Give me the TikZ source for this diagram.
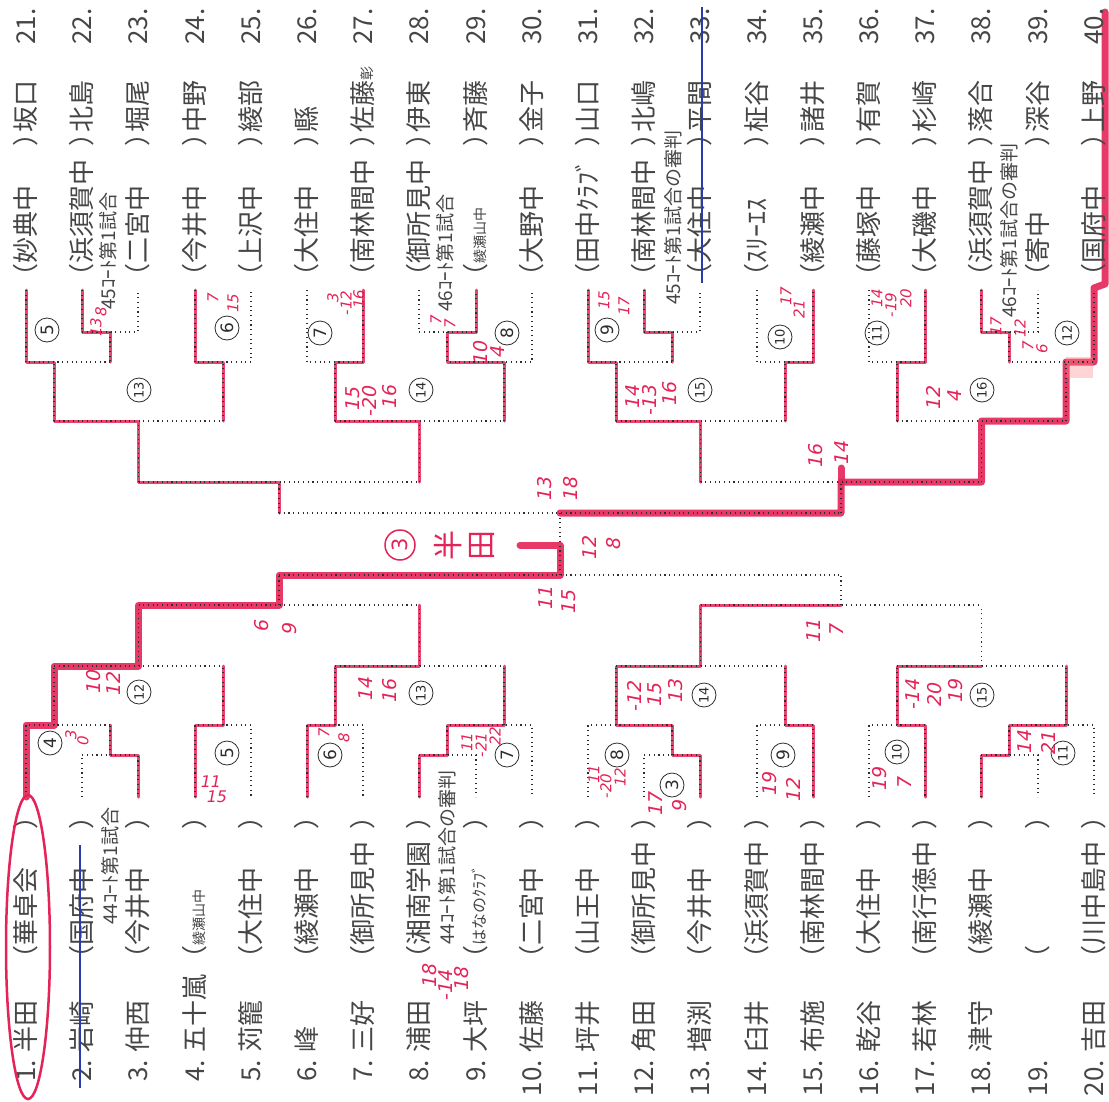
\documentclass[tikz,border=0pt]{standalone}
\usepackage{fontspec}
\newfontfamily\jp{Noto Sans CJK JP}
\newfontfamily\hand{DejaVu Sans}
\definecolor{mk}{RGB}{228,36,88}
\definecolor{ink}{RGB}{45,45,45}
\definecolor{tx}{RGB}{70,70,70}
\definecolor{bl}{RGB}{40,60,170}
\newcommand\smtx[1]{{\fontsize{14}{14}\selectfont #1}}
\newcommand\smtxb[1]{{\fontsize{16}{16}\selectfont #1}}
\tikzset{
 txt/.style={rotate=90, inner sep=0pt, font=\jp\fontsize{26}{26}\selectfont, text=tx},
 note/.style={rotate=90, inner sep=0pt, anchor=west, font=\jp\fontsize{19}{19}\selectfont, text=tx},
 sc/.style={rotate=90, inner sep=0pt, font=\hand\itshape\fontsize{19}{19}\selectfont, text=mk},
 scs/.style={rotate=90, inner sep=0pt, font=\hand\itshape\fontsize{15}{15}\selectfont, text=mk},
 scu/.style={inner sep=0pt, font=\hand\itshape\fontsize{16}{16}\selectfont, text=mk},
 cn/.style={circle, draw=ink, line width=0.8pt, minimum size=24pt, inner sep=0pt, rotate=90, font=\hand\fontsize{17}{17}\selectfont, text=ink},
 cntwo/.style={cn, font=\hand\fontsize{13}{13}\selectfont},
 base/.style={draw=ink, line width=1.1pt, dash pattern=on 1.1pt off 3.6pt},
 win/.style={draw=mk, line width=3pt, opacity=0.85, line join=round, line cap=round},
 champ/.style={draw=mk, line width=7pt, opacity=0.9, line join=round, line cap=round},
}
\newcommand\botentry[5]{%
 \node[txt, anchor=east] (b#1num) at (#2,1060) {#3};
 \node[txt, anchor=west] (b#1nm) at (#2,1053) {#4};
 \node[txt, anchor=west] (b#1sc) at (#2,972) {（#5};
 \node[txt, anchor=west] (b#1cp) at (#2,830) {）};
}
\newcommand\topentry[5]{%
 \node[txt, anchor=west] (t#1sc) at (#2,290) {（#5};
 \node[txt, anchor=west] (t#1cp) at (#2,147) {）};
 \node[txt, anchor=west] (t#1nm) at (#2,133) {#4};
 \node[txt, anchor=west] (t#1num) at (#2,45) {#3};
}
\begin{document}
\begin{tikzpicture}[x=1pt,y=-1pt]
\useasboundingbox (0,0) rectangle (1109,1101);
\fill[white] (0,0) rectangle (1109,1101);

% ---------- red overlays: bottom ----------
\draw[win] (138,797)--(138,755)--(110,755)--(110,725);
\draw[win] (195,797)--(195,725)--(223,725)--(223,666);
\draw[win] (307,797)--(307,725)--(335,725)--(335,666)--(419.5,666)--(419.5,605);
\draw[win] (419,797)--(419,755)--(447,755)--(447,725)--(504,725)--(504,666);
\draw[win] (700,797)--(700,755)--(672,755)--(672,725)--(616,725)--(616,666)--(700.5,666)--(700.5,605)--(841,605);
\draw[win] (813,797)--(813,725)--(785,725)--(785,666);
\draw[win] (925,797)--(925,725)--(897,725)--(897,666)--(981.5,666);
\draw[win] (981,797)--(981,755)--(1009,755)--(1009,725)--(1066,725)--(1066,666);
\draw[champ] (26,797)--(26,725)--(54,725)--(54,666)--(138.5,666)--(138.5,605)--(279,605)--(279,575)--(560,575)--(560,545)--(520,545);
% ---------- red overlays: top ----------
\draw[win] (82,290)--(82,332)--(110,332)--(110,362);
\draw[win] (26,290)--(26,362)--(54,362)--(54,421)--(138.5,421)--(138.5,482)--(279,482)--(279,513);
\draw[win] (195,290)--(195,362)--(223,362)--(223,421);
\draw[win] (363,290)--(363,362)--(335,362)--(335,421)--(419.5,421)--(419.5,482);
\draw[win] (476,290)--(476,332)--(447,332)--(447,362)--(504,362)--(504,421);
\draw[win] (644,290)--(644,332)--(672,332)--(672,362);
\draw[win] (588,290)--(588,362)--(616,362)--(616,421)--(700.5,421)--(700.5,482);
\draw[win] (813,290)--(813,362)--(785,362)--(785,421);
\draw[win] (925,290)--(925,362)--(897,362)--(897,421);
\draw[win] (981,290)--(981,332)--(1009,332)--(1009,362);
\draw[champ] (1105,12)--(1105,284)--(1094,288)--(1094,362)--(1066,362)--(1066,421)--(981.5,421)--(981.5,482)--(841,482)--(841,513)--(560,513);
\draw[champ] (841,482)--(841,468);
\fill[pink!70!red, opacity=0.35] (1066,357) rectangle (1093,378);

% ---------- printed dotted bracket: bottom ----------
\draw[base] (26,797)--(26,725)--(110,725);
\draw[base] (82,797)--(82,755)--(138,755)--(138,797);
\draw[base] (110,755)--(110,725) (54,725)--(54,666);
\draw[base] (195,797)--(195,725)--(251,725)--(251,797) (223,725)--(223,666);
\draw[base] (54,666)--(223,666) (138.5,666)--(138.5,605);
\draw[base] (307,797)--(307,725)--(363,725)--(363,797) (335,725)--(335,666);
\draw[base] (419,797)--(419,755)--(476,755)--(476,797) (447,755)--(447,725)--(532,725)--(532,797) (504,725)--(504,666);
\draw[base] (335,666)--(504,666) (419.5,666)--(419.5,605);
\draw[base] (138.5,605)--(419.5,605) (279,605)--(279,575);
\draw[base] (588,797)--(588,725)--(672,725) (644,797)--(644,755)--(700,755)--(700,797) (672,755)--(672,725) (616,725)--(616,666);
\draw[base] (757,797)--(757,725)--(813,725)--(813,797) (785,725)--(785,666);
\draw[base] (616,666)--(785,666) (700.5,666)--(700.5,605);
\draw[base] (869,797)--(869,725)--(925,725)--(925,797) (897,725)--(897,666);
\draw[base] (981,797)--(981,755)--(1038,755)--(1038,797) (1009,755)--(1009,725)--(1094,725)--(1094,797) (1066,725)--(1066,666);
\draw[base] (897,666)--(1066,666) (981.5,666)--(981.5,605);
\draw[base] (700.5,605)--(981.5,605) (841,605)--(841,575);
\draw[base] (279,575)--(841,575) (560,575)--(560,513);
% ---------- printed dotted bracket: top ----------
\draw[base] (279,513)--(841,513) (279,513)--(279,482) (841,513)--(841,482);
\draw[base] (138.5,482)--(419.5,482) (700.5,482)--(981.5,482);
\draw[base] (138.5,482)--(138.5,421) (419.5,482)--(419.5,421) (700.5,482)--(700.5,421) (981.5,482)--(981.5,421);
\draw[base] (54,421)--(223,421) (335,421)--(504,421) (616,421)--(785,421) (897,421)--(1066,421);
\draw[base] (54,421)--(54,362) (223,421)--(223,362) (335,421)--(335,362) (504,421)--(504,362) (616,421)--(616,362) (785,421)--(785,362) (897,421)--(897,362) (1066,421)--(1066,362);
\draw[base] (26,290)--(26,362)--(110,362) (82,290)--(82,332)--(138,332)--(138,290) (110,332)--(110,362);
\draw[base] (195,290)--(195,362)--(251,362)--(251,290);
\draw[base] (307,290)--(307,362)--(363,362)--(363,290);
\draw[base] (419,290)--(419,332)--(476,332)--(476,290) (447,332)--(447,362)--(532,362)--(532,290);
\draw[base] (588,290)--(588,362)--(672,362) (644,290)--(644,332)--(700,332)--(700,290) (672,332)--(672,362);
\draw[base] (757,290)--(757,362)--(813,362)--(813,290);
\draw[base] (869,290)--(869,362)--(925,362)--(925,290);
\draw[base] (981,290)--(981,332)--(1038,332)--(1038,290) (1009,332)--(1009,362)--(1094,362)--(1094,290);

% ---------- entries ----------
\botentry{1}{26}{1.}{半田}{華卓会}
\botentry{2}{82}{2.}{岩崎}{国府中}
\botentry{3}{138}{3.}{仲西}{今井中}
\botentry{4}{195}{4.}{五十嵐}{\smtx{綾瀬山中}}
\botentry{5}{251}{5.}{苅籠}{大住中}
\botentry{6}{307}{6.}{峰}{綾瀬中}
\botentry{7}{363}{7.}{三好}{御所見中}
\botentry{8}{419}{8.}{浦田}{湘南学園}
\botentry{9}{476}{9.}{大坪}{\smtxb{はなのｸﾗﾌﾞ}}
\botentry{10}{532}{10.}{佐藤}{二宮中}
\botentry{11}{588}{11.}{坪井}{山王中}
\botentry{12}{644}{12.}{角田}{御所見中}
\botentry{13}{700}{13.}{増渕}{今井中}
\botentry{14}{757}{14.}{臼井}{浜須賀中}
\botentry{15}{813}{15.}{布施}{南林間中}
\botentry{16}{869}{16.}{乾谷}{大住中}
\botentry{17}{925}{17.}{若林}{南行徳中}
\botentry{18}{981}{18.}{津守}{綾瀬中}
\botentry{19}{1038}{19.}{}{}
\botentry{20}{1094}{20.}{吉田}{川中島中}

\topentry{21}{26}{21.}{坂口}{妙典中}
\topentry{22}{82}{22.}{北島}{浜須賀中}
\topentry{23}{138}{23.}{堀尾}{二宮中}
\topentry{24}{195}{24.}{中野}{今井中}
\topentry{25}{251}{25.}{綾部}{上沢中}
\topentry{26}{307}{26.}{縣}{大住中}
\topentry{27}{363}{27.}{佐藤\smtx{彰}}{南林間中}
\topentry{28}{419}{28.}{伊東}{御所見中}
\topentry{29}{476}{29.}{斉藤}{\smtx{綾瀬山中}}
\topentry{30}{532}{30.}{金子}{大野中}
\topentry{31}{588}{31.}{山口}{田中ｸﾗﾌﾞ}
\topentry{32}{644}{32.}{北嶋}{南林間中}
\topentry{33}{700}{33.}{平間}{大住中}
\topentry{34}{757}{34.}{柾谷}{ｽﾘｰｴｽ}
\topentry{35}{813}{35.}{諸井}{綾瀬中}
\topentry{36}{869}{36.}{有賀}{藤塚中}
\topentry{37}{925}{37.}{杉崎}{大磯中}
\topentry{38}{981}{38.}{落合}{浜須賀中}
\topentry{39}{1038}{39.}{深谷}{寄中}
\topentry{40}{1094}{40.}{上野}{国府中}

% ---------- court notes ----------
\node[note] (n44a) at (110,925) {44ｺｰﾄ第1試合};
\node[note] (n44b) at (447,945) {44ｺｰﾄ第1試合の審判};
\node[note] (n45a) at (108,310) {45ｺｰﾄ第1試合};
\node[note] (n46a) at (445,312) {46ｺｰﾄ第1試合};
\node[note] (n45b) at (673,305) {45ｺｰﾄ第1試合の審判};
\node[note] (n46b) at (1009,318) {46ｺｰﾄ第1試合の審判};

% ---------- circled match numbers ----------
\node[cn] (mb4) at (50,743) {4};
\node[cn] (mb5) at (227,753) {5};
\node[cn] (mb6) at (330,755) {6};
\node[cn] (mb7) at (507,755) {7};
\node[cn] (mb8) at (617,755) {8};
\node[cn] (mb3) at (672,785) {3};
\node[cn] (mb9) at (783,755) {9};
\node[cntwo] (mb10) at (897,752) {10};
\node[cntwo] (mb11) at (1063,753) {11};
\node[cntwo] (mb12) at (139,692) {12};
\node[cntwo] (mb13) at (421,693) {13};
\node[cntwo] (mb14) at (704,695) {14};
\node[cntwo] (mb15) at (982,695) {15};
\node[cn] (mt5) at (47,330) {5};
\node[cn] (mt6) at (227,328) {6};
\node[cn] (mt7) at (320,333) {7};
\node[cn] (mt8) at (507,333) {8};
\node[cn] (mt9) at (607,330) {9};
\node[cntwo] (mt10) at (780,337) {10};
\node[cntwo] (mt11) at (877,333) {11};
\node[cntwo] (mt12) at (1067,333) {12};
\node[cntwo] (mt13) at (139,390) {13};
\node[cntwo] (mt14) at (421,390) {14};
\node[cntwo] (mt15) at (700,390) {15};
\node[cntwo] (mt16) at (982,390) {16};

% ---------- winner label and marks ----------
\node[circle, draw=mk, line width=1.5pt, minimum size=30pt, inner sep=0pt, rotate=90, text=mk, font=\hand\fontsize{21}{21}\selectfont] (w3) at (400,545) {3};
\node[rotate=90, inner sep=0pt, text=mk, font=\jp\fontsize{30}{30}\selectfont] (wa) at (448,545) {半};
\node[rotate=90, inner sep=0pt, text=mk, font=\jp\fontsize{30}{30}\selectfont] (wb) at (482,545) {田};
\draw[mk, line width=2.5pt] (28,947) ellipse [x radius=22pt, y radius=152pt];
\draw[bl, line width=1.3pt] (80,845)--(80,1088);
\draw[bl, line width=1.3pt] (702,7)--(702,283);

% ---------- handwritten scores ----------
\node[scs] (s1) at (71,735) {3};
\node[scs] (s2) at (83,741) {0};
\node[scu] (s3) at (211,782) {11};
\node[scu] (s4) at (217,797) {15};
\node[scs] (s5) at (324,733) {7};
\node[scs] (s6) at (344,738) {8};
\node[sc] (s7) at (430,975) {18};
\node[sc] (s8) at (446,985) {-14};
\node[sc] (s9) at (462,978) {18};
\node[scs] (s10) at (467,742) {11};
\node[scs] (s11) at (481,745) {-21};
\node[scs] (s12) at (495,736) {22};
\node[sc] (s13) at (94,681) {10};
\node[sc] (s14) at (113,683) {12};
\node[sc] (s15) at (366,688) {14};
\node[sc] (s16) at (390,690) {16};
\node[sc] (s17) at (262,625) {6};
\node[sc] (s18) at (290,628) {9};
\node[scs] (s19) at (594,774) {11};
\node[scs] (s20) at (606,786) {-20};
\node[scs] (s21) at (620,777) {12};
\node[sc] (s22) at (656,803) {17};
\node[sc] (s23) at (680,805) {9};
\node[sc] (s24) at (634,696) {-12};
\node[sc] (s25) at (655,694) {15};
\node[sc] (s26) at (676,690) {13};
\node[sc] (s27) at (770,783) {19};
\node[sc] (s28) at (793,789) {12};
\node[sc] (s29) at (814,630) {11};
\node[sc] (s30) at (837,629) {7};
\node[sc] (s31) at (880,778) {19};
\node[sc] (s32) at (905,782) {7};
\node[sc] (s33) at (913,694) {-14};
\node[sc] (s34) at (935,694) {20};
\node[sc] (s35) at (956,690) {19};
\node[sc] (s36) at (1025,741) {14};
\node[sc] (s37) at (1048,742) {21};
\node[sc] (s38) at (545,488) {13};
\node[sc] (s39) at (571,488) {18};
\node[sc] (s40) at (589,547) {12};
\node[sc] (s41) at (614,543) {8};
\node[sc] (s42) at (546,597) {11};
\node[sc] (s43) at (569,601) {15};
\node[sc] (s44) at (816,455) {16};
\node[sc] (s45) at (842,452) {14};
\node[scs] (s46) at (101,312) {8};
\node[scs] (s47) at (96,327) {13};
\node[scs] (s48) at (213,298) {7};
\node[scs] (s49) at (233,303) {15};
\node[scs] (s50) at (333,298) {3};
\node[scs] (s51) at (346,303) {-12};
\node[scs] (s52) at (359,299) {16};
\node[scs] (s53) at (436,320) {7};
\node[scs] (s54) at (450,324) {7};
\node[sc] (s55) at (481,352) {10};
\node[sc] (s56) at (498,351) {4};
\node[sc] (s57) at (353,398) {15};
\node[sc] (s58) at (370,401) {-20};
\node[sc] (s59) at (390,396) {16};
\node[scs] (s60) at (604,300) {15};
\node[scs] (s61) at (624,306) {17};
\node[sc] (s62) at (633,396) {14};
\node[sc] (s63) at (650,400) {-13};
\node[sc] (s64) at (670,393) {16};
\node[scs] (s65) at (786,296) {17};
\node[scs] (s66) at (799,309) {21};
\node[scs] (s67) at (877,298) {14};
\node[scs] (s68) at (891,305) {-19};
\node[scs] (s69) at (906,298) {20};
\node[scs] (s70) at (996,326) {17};
\node[scs] (s71) at (1020,328) {12};
\node[scs] (s72) at (1028,346) {7};
\node[scs] (s73) at (1042,349) {6};
\node[sc] (s74) at (933,397) {12};
\node[sc] (s75) at (955,395) {4};
\end{tikzpicture}
\end{document}
